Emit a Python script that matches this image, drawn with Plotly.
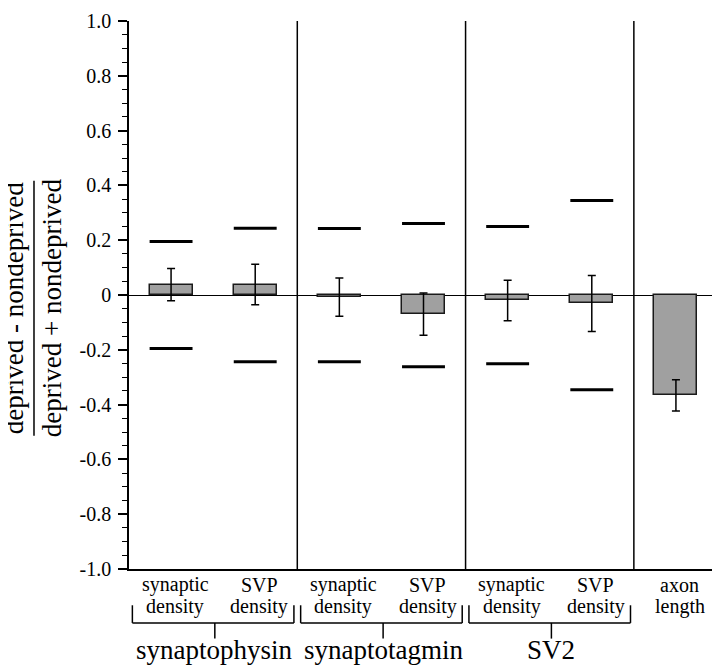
import plotly.graph_objects as go

# ---- data ----
categories = ["synaptic\ndensity", "SVP\ndensity", "synaptic\ndensity", "SVP\ndensity",
              "synaptic\ndensity", "SVP\ndensity", "axon\nlength"]
means = [0.038, 0.038, -0.008, -0.070, -0.020, -0.031, -0.366]
errors = [0.059, 0.074, 0.070, 0.077, 0.074, 0.102, 0.057]
upper_limits = [0.195, 0.244, 0.243, 0.261, 0.250, 0.345, None]
lower_limits = [-0.195, -0.244, -0.244, -0.262, -0.251, -0.346, None]
groups = [("synaptophysin", 0, 1), ("synaptotagmin", 2, 3), ("SV2", 4, 5)]
ytick_vals = [1.0, 0.8, 0.6, 0.4, 0.2, 0.0, -0.2, -0.4, -0.6, -0.8, -1.0]
ytick_text = ["1.0", "0.8", "0.6", "0.4", "0.2", "0", "-0.2", "-0.4", "-0.6", "-0.8", "-1.0"]
ytitle_num = "deprived - nondeprived"
ytitle_den = "deprived + nondeprived"

FONT = "Liberation Serif"
BAR_W = 0.51
x_idx = list(range(len(categories)))

fig = go.Figure()
fig.add_trace(go.Bar(
    x=x_idx, y=means, width=BAR_W,
    marker=dict(color="#a0a0a0", line=dict(color="#1a1a1a", width=1.5)),
    error_y=dict(type="data", array=errors, visible=True, color="black",
                 thickness=1.5, width=4),
    showlegend=False,
))

# threshold lines
lx, ly = [], []
for i, (u, l) in enumerate(zip(upper_limits, lower_limits)):
    for v in (u, l):
        if v is None:
            continue
        lx += [i - BAR_W / 2, i + BAR_W / 2, None]
        ly += [v, v, None]
fig.add_trace(go.Scatter(x=lx, y=ly, mode="lines",
                         line=dict(color="black", width=3), showlegend=False,
                         cliponaxis=False))

shapes = []
# panel dividers and right border
for xd in [1.5, 3.5, 5.5, 6.5]:
    shapes.append(dict(type="line", xref="x", yref="paper", x0=xd, x1=xd, y0=0, y1=1,
                       line=dict(color="black", width=1.5)))

# brackets
yb_top, yb_bot, yb_tick = -0.0662, -0.0984, -0.127
annotations = []
for name, a, b in groups:
    x0, x1 = a - 0.46, b + 0.46
    xm = (a + b) / 2 + 0.02
    for seg in [(x0, yb_top, x0, yb_bot), (x0, yb_bot, x1, yb_bot),
                (x1, yb_bot, x1, yb_top), (xm, yb_bot, xm, yb_tick)]:
        shapes.append(dict(type="line", xref="x", yref="paper",
                           x0=seg[0], y0=seg[1], x1=seg[2], y1=seg[3],
                           line=dict(color="black", width=1.5)))
    annotations.append(dict(text=name, x=xm, y=-0.148, xref="x", yref="paper",
                            xanchor="center", yanchor="middle", showarrow=False,
                            font=dict(family=FONT, size=27, color="black")))

# category labels
for i, lab in enumerate(categories):
    l1, l2 = lab.split("\n")
    for txt, yy in [(l1, -0.0286), (l2, -0.068)]:
        annotations.append(dict(text=txt, x=i, y=yy, xref="x", yref="paper",
                                xanchor="center", yanchor="middle", showarrow=False,
                                xshift=4,
                                font=dict(family=FONT, size=20, color="black")))

# y title as fraction
for txt, xs in [(ytitle_num, -115), (ytitle_den, -77)]:
    annotations.append(dict(text=txt, x=0, y=0.4758, xref="paper", yref="paper",
                            xanchor="center", yanchor="middle", xshift=xs,
                            textangle=-90, showarrow=False,
                            font=dict(family=FONT, size=27, color="black")))
shapes.append(dict(type="line", xref="paper", yref="paper", x0=-0.1613, x1=-0.1613,
                   y0=0.2433, y1=0.7084, line=dict(color="black", width=1.5)))

# page body has an 8px margin, so the figure is 8px smaller and shifted
fig.update_layout(
    width=712, height=659, autosize=False,
    margin=dict(l=121, r=2, t=2, b=98, pad=0),
    paper_bgcolor="white", plot_bgcolor="white",
    font=dict(family=FONT, size=20, color="black"),
    shapes=shapes, annotations=annotations,
    bargap=0,
    xaxis=dict(range=[-0.5, 6.5], showticklabels=False, ticks="", showgrid=False,
               zeroline=False, showline=True, linecolor="black", linewidth=1.5),
    yaxis=dict(range=[-1, 1], tickmode="array", tickvals=ytick_vals, ticktext=ytick_text,
               ticks="outside", ticklen=9, tickwidth=1.5, tickcolor="black",
               showgrid=False, showline=True, linecolor="black", linewidth=1.5,
               zeroline=True, zerolinecolor="black", zerolinewidth=1.2,
               ticklabelstandoff=3, ticklabeloverflow="allow",
               tickfont=dict(family=FONT, size=20, color="black"),
               minor=dict(tick0=0, dtick=0.05, ticks="outside", ticklen=5,
                          tickwidth=1.2, tickcolor="black", showgrid=False)),
)

fig.write_html("out.html")
